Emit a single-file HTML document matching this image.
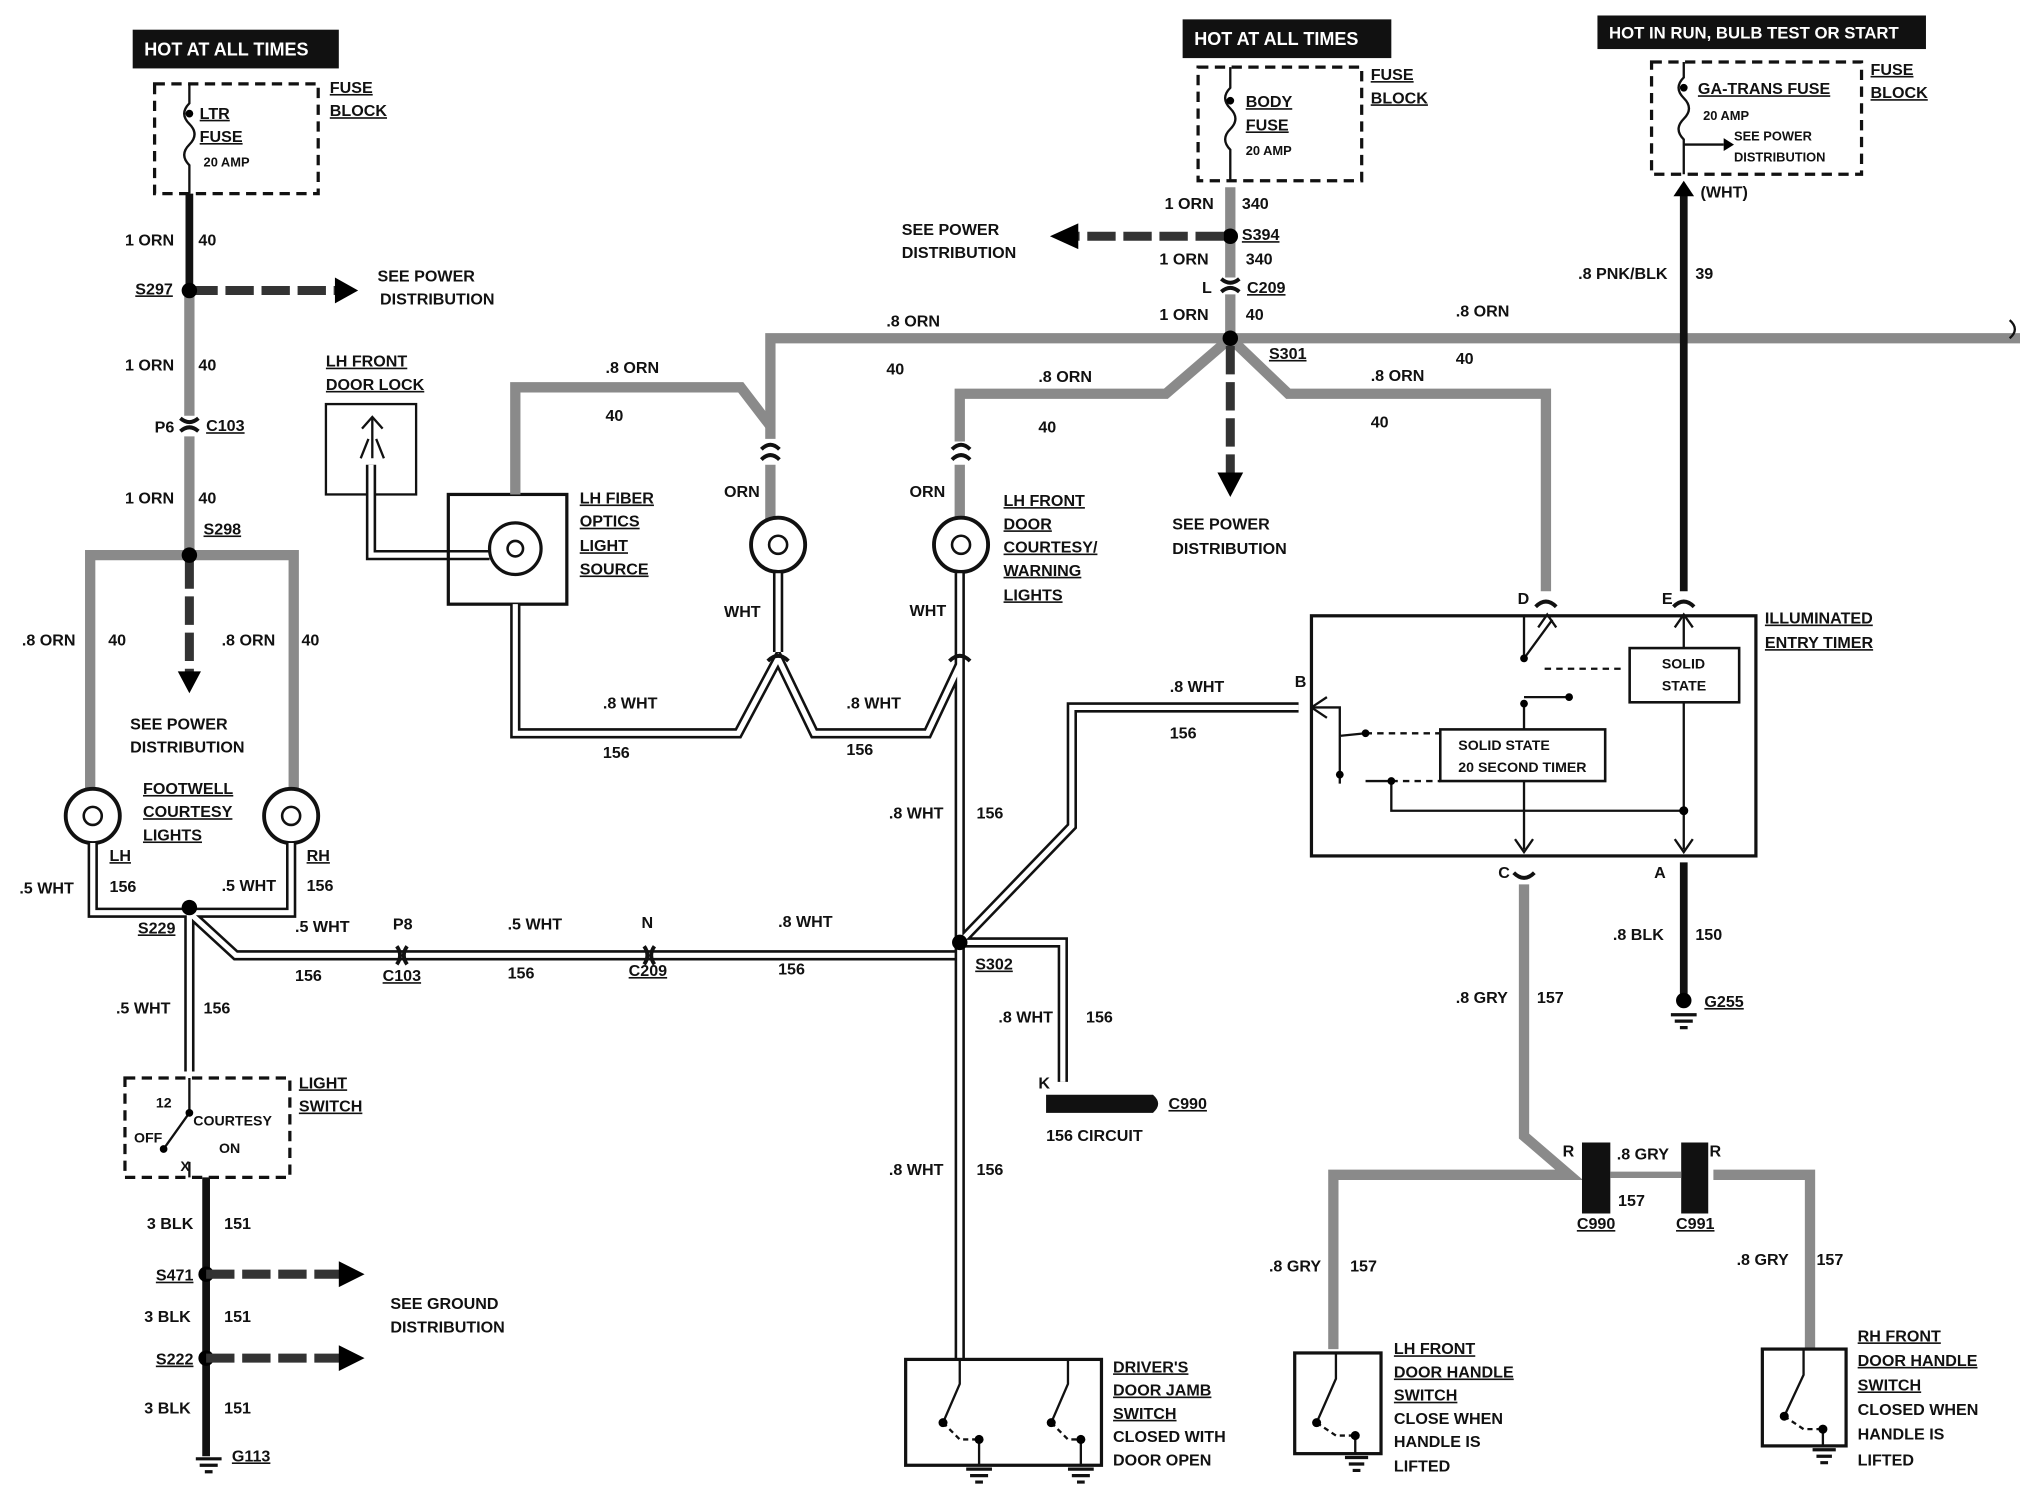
<!DOCTYPE html>
<html><head><meta charset="utf-8"><style>
html,body{margin:0;padding:0;background:#fff;}
svg{display:block}
text{font-family:"Liberation Sans",sans-serif;font-weight:bold;font-size:12.5px;fill:#111}
.u{text-decoration:underline}
.g{stroke:#8a8a8a;stroke-width:8;fill:none}
.w{stroke:#111;stroke-width:8;fill:none}
.wi{stroke:#fff;stroke-width:4;fill:none}
.b{stroke:#111;stroke-width:6;fill:none}
.t{stroke:#111;stroke-width:1.8;fill:none}
.d{stroke:#111;stroke-width:2.5;fill:none;stroke-dasharray:8 5}
.da{stroke:#333;stroke-width:7;fill:none;stroke-dasharray:22 6}
.hd{fill:#111}
.hdt{fill:#fff;font-size:14px}
</style></head><body>
<svg width="2020" height="1504" viewBox="0 0 1568 1165" preserveAspectRatio="none" xmlns="http://www.w3.org/2000/svg">
<rect class="hd" x="103" y="23" width="160" height="30"/><text class="hdt" x="112" y="43">HOT AT ALL TIMES</text>
<rect class="hd" x="918" y="15" width="162" height="30"/><text class="hdt" x="927" y="35">HOT AT ALL TIMES</text>
<rect class="hd" x="1240" y="12" width="255" height="26"/><text class="hdt" x="1249" y="30" style="font-size:13px">HOT IN RUN, BULB TEST OR START</text>
<rect class="d" x="120" y="65" width="127" height="85"/>
<path class="t" d="M147 65 V80 q-8 8 0 16 q8 8 0 16 q-8 8 0 16 V150"/><circle cx="147" cy="88" r="3"/>
<text class="u" x="155" y="92">LTR</text><text class="u" x="155" y="110">FUSE</text><text x="158" y="129" style="font-size:10px">20 AMP</text>
<text class="u" x="256" y="72">FUSE</text><text class="u" x="256" y="90">BLOCK</text>
<rect class="d" x="930" y="52" width="127" height="88"/>
<path class="t" d="M955 52 V68 q-8 8 0 16 q8 8 0 16 q-8 8 0 16 V140"/><circle cx="955" cy="78" r="3"/>
<text class="u" x="967" y="83">BODY</text><text class="u" x="967" y="101">FUSE</text><text x="967" y="120" style="font-size:10px">20 AMP</text>
<text class="u" x="1064" y="62">FUSE</text><text class="u" x="1064" y="80">BLOCK</text>
<rect class="d" x="1282" y="48" width="163" height="87"/>
<path class="t" d="M1307 48 V60 q-8 8 0 16 q8 8 0 16 q-8 8 0 16 V135"/><circle cx="1307" cy="68" r="3"/>
<path class="t" d="M1307 112 H1338"/><path d="M1338 107 L1346 112 L1338 117Z"/>
<text class="u" x="1318" y="73">GA-TRANS FUSE</text><text x="1322" y="93" style="font-size:10px">20 AMP</text>
<text x="1346" y="109" style="font-size:10px">SEE POWER</text><text x="1346" y="125" style="font-size:10px">DISTRIBUTION</text>
<text class="u" x="1452" y="58">FUSE</text><text class="u" x="1452" y="76">BLOCK</text>
<text x="1320" y="153">(WHT)</text>

<path class="b" d="M147 150 V222"/>
<path class="g" d="M147 222 V322 M147 338 V430"/>
<path class="da" d="M147 225 H262"/><path d="M260 215 L278 225 L260 235Z"/>
<circle cx="147" cy="225" r="6"/>
<text x="97" y="190">1 ORN</text><text x="154" y="190">40</text>
<text class="u" x="105" y="228">S297</text>
<text x="293" y="218">SEE POWER</text><text x="295" y="236">DISTRIBUTION</text>
<text x="97" y="287">1 ORN</text><text x="154" y="287">40</text>
<path class="t" d="M140 324 q7 6 14 0 M140 334 q7 -6 14 0" style="stroke-width:3"/>
<text x="120" y="335">P6</text><text class="u" x="160" y="334">C103</text>
<text x="97" y="390">1 ORN</text><text x="154" y="390">40</text>
<text class="u" x="158" y="414">S298</text>
<path class="g" d="M147 430 H70 V614 M147 430 H228 V614"/>
<path class="da" d="M147 434 V522"/><path d="M138 520 L147 537 L156 520Z"/>
<circle cx="147" cy="430" r="6"/>
<text x="17" y="500">.8 ORN</text><text x="84" y="500">40</text>
<text x="172" y="500">.8 ORN</text><text x="234" y="500">40</text>
<text x="101" y="565">SEE POWER</text><text x="101" y="583">DISTRIBUTION</text>
<text class="u" x="111" y="615">FOOTWELL</text><text class="u" x="111" y="633">COURTESY</text><text class="u" x="111" y="651">LIGHTS</text>
<circle cx="72" cy="632" r="21" fill="#fff" stroke="#111" stroke-width="3"/><circle cx="72" cy="632" r="7" fill="none" stroke="#111" stroke-width="2"/>
<circle cx="226" cy="632" r="21" fill="#fff" stroke="#111" stroke-width="3"/><circle cx="226" cy="632" r="7" fill="none" stroke="#111" stroke-width="2"/>
<path class="w" d="M72 653 V707 H147 M226 653 V707 H147 M147 707 L183 740 H745 M147 707 V830"/>
<path class="wi" d="M72 653 V707 H147 M226 653 V707 H147 M147 707 L183 740 H745 M147 707 V830"/>
<circle cx="147" cy="703" r="6"/>
<text class="u" x="85" y="667">LH</text><text class="u" x="238" y="667">RH</text>
<text x="15" y="692">.5 WHT</text><text x="85" y="691">156</text><text x="172" y="690">.5 WHT</text><text x="238" y="690">156</text>
<text class="u" x="107" y="723">S229</text>
<text x="229" y="722">.5 WHT</text><text x="229" y="760">156</text>
<text x="305" y="720">P8</text><text class="u" x="297" y="760">C103</text>
<text x="394" y="720">.5 WHT</text><text x="394" y="758">156</text>
<text x="498" y="719">N</text><text class="u" x="488" y="756">C209</text>
<text x="604" y="718">.8 WHT</text><text x="604" y="755">156</text>
<path class="t" d="M308 733 q5 7 0 14 M316 733 q-5 7 0 14 M500 733 q5 7 0 14 M508 733 q-5 7 0 14" style="stroke-width:3"/>
<text x="90" y="785">.5 WHT</text><text x="158" y="785">156</text>
<rect class="d" x="97" y="835" width="128" height="77"/>
<text x="121" y="858" style="font-size:11px">12</text><text x="150" y="872" style="font-size:11px">COURTESY</text>
<text x="104" y="885" style="font-size:11px">OFF</text><text x="170" y="893" style="font-size:11px">ON</text><text x="140" y="907" style="font-size:11px">X</text>
<path class="t" d="M147 835 V862 M147 862 L127 890 M147 912 V900"/><circle cx="127" cy="890" r="3"/><circle cx="147" cy="862" r="3"/>
<text class="u" x="232" y="843">LIGHT</text><text class="u" x="232" y="861">SWITCH</text>
<path class="b" d="M160 912 V1128"/>
<text x="114" y="952">3 BLK</text><text x="174" y="952">151</text>
<circle cx="160" cy="987" r="6"/><path class="da" d="M160 987 H265"/><path d="M263 977 L283 987 L263 997Z"/>
<text class="u" x="121" y="992">S471</text>
<text x="303" y="1014">SEE GROUND</text><text x="303" y="1032">DISTRIBUTION</text>
<text x="112" y="1024">3 BLK</text><text x="174" y="1024">151</text>
<circle cx="160" cy="1052" r="6"/><path class="da" d="M160 1052 H265"/><path d="M263 1042 L283 1052 L263 1062Z"/>
<text class="u" x="121" y="1057">S222</text>
<text x="112" y="1095">3 BLK</text><text x="174" y="1095">151</text>
<path class="t" d="M152 1130 H172 M155 1135 H169 M159 1140 H165" style="stroke-width:2.5"/>
<text class="u" x="180" y="1132">G113</text>

<rect class="t" x="253" y="313" width="70" height="70"/>
<path class="t" d="M289 323 V355 M281 332 L289 323 L297 332 M280 355 L286 340 M298 355 L292 340"/>
<path class="w" d="M288 360 V430 H380"/><path class="wi" d="M288 360 V430 H380"/>
<text class="u" x="253" y="284">LH FRONT</text><text class="u" x="253" y="302">DOOR LOCK</text>
<rect class="t" x="348" y="383" width="92" height="85" style="stroke-width:2.5"/>
<circle cx="400" cy="425" r="20" fill="#fff" stroke="#111" stroke-width="2.5"/><circle cx="400" cy="425" r="6" fill="none" stroke="#111" stroke-width="2"/>
<text class="u" x="450" y="390">LH FIBER</text><text class="u" x="450" y="408">OPTICS</text><text class="u" x="450" y="427">LIGHT</text><text class="u" x="450" y="445">SOURCE</text>
<path class="g" d="M400 383 V300 H575 L598 330"/>
<path class="g" d="M598 340 V262 H955 H1568"/>
<path class="g" d="M955 262 L905 305 H745 V342"/>
<path class="g" d="M955 262 L1000 305 H1200 V458"/>
<path class="g" d="M955 145 V215 M955 228 V262"/>
<path class="t" d="M591 348 q7 -7 14 0 M591 356 q7 -7 14 0 M739 348 q7 -7 14 0 M739 356 q7 -7 14 0" style="stroke-width:3"/>
<path class="g" d="M598 360 V402 M745 360 V402"/>
<circle cx="604" cy="422" r="21" fill="#fff" stroke="#111" stroke-width="3"/><circle cx="604" cy="422" r="7" fill="none" stroke="#111" stroke-width="2"/>
<circle cx="746" cy="422" r="21" fill="#fff" stroke="#111" stroke-width="3"/><circle cx="746" cy="422" r="7" fill="none" stroke="#111" stroke-width="2"/>
<text x="470" y="289">.8 ORN</text><text x="470" y="326">40</text>
<text x="688" y="253">.8 ORN</text><text x="688" y="290">40</text>
<text x="806" y="296">.8 ORN</text><text x="806" y="335">40</text>
<text x="1130" y="245">.8 ORN</text><text x="1130" y="282">40</text>
<text x="1064" y="295">.8 ORN</text><text x="1064" y="331">40</text>
<text x="562" y="385">ORN</text><text x="706" y="385">ORN</text>
<text x="562" y="478">WHT</text><text x="706" y="477">WHT</text>
<text class="u" x="779" y="392">LH FRONT</text><text class="u" x="779" y="410">DOOR</text><text class="u" x="779" y="428">COURTESY/</text><text class="u" x="779" y="446">WARNING</text><text class="u" x="779" y="465">LIGHTS</text>
<path class="w" d="M400 468 V568 H573 L604 510 L632 568 H720 L745 515 M604 444 V505 M745 444 V1052 M745 730 L832 640 V548 H1008 M745 730 H825 V838"/>
<path class="wi" d="M400 468 V568 H573 L604 510 L632 568 H720 L745 515 M604 444 V505 M745 444 V1052 M745 730 L832 640 V548 H1008 M745 730 H825 V838"/>
<path class="t" d="M596 512 q8 -8 16 0 M737 512 q8 -8 16 0" style="stroke-width:3"/>
<circle cx="745" cy="730" r="6"/>
<text x="468" y="549">.8 WHT</text><text x="468" y="587">156</text>
<text x="657" y="549">.8 WHT</text><text x="657" y="585">156</text>
<text x="690" y="634">.8 WHT</text><text x="758" y="634">156</text>
<text x="908" y="536">.8 WHT</text><text x="908" y="572">156</text>
<text class="u" x="757" y="751">S302</text>
<text x="775" y="792">.8 WHT</text><text x="843" y="792">156</text>
<text x="806" y="843">K</text>
<path d="M812 848 H895 Q903 855 895 862 H812Z" fill="#111"/>
<text class="u" x="907" y="859">C990</text><text x="812" y="884">156 CIRCUIT</text>
<text x="690" y="910">.8 WHT</text><text x="758" y="910">156</text>
<rect class="t" x="703" y="1053" width="152" height="82" style="stroke-width:2.5"/>
<path class="t" d="M745 1053 V1072 L732 1102 M829 1053 V1072 L816 1102 M760 1118 V1135 M839 1118 V1135"/>
<path class="t" d="M732 1102 L745 1115 H760 M816 1102 L829 1115 H839" style="stroke-dasharray:4 3"/>
<circle cx="732" cy="1102" r="3.5"/><circle cx="760" cy="1115" r="3.5"/><circle cx="816" cy="1102" r="3.5"/><circle cx="839" cy="1115" r="3.5"/>
<path class="t" d="M750 1138 H770 M753 1143 H767 M757 1148 H763 M829 1138 H849 M832 1143 H846 M836 1148 H842" style="stroke-width:2.5"/>
<text class="u" x="864" y="1063">DRIVER'S</text><text class="u" x="864" y="1081">DOOR JAMB</text><text class="u" x="864" y="1099">SWITCH</text><text x="864" y="1117">CLOSED WITH</text><text x="864" y="1135">DOOR OPEN</text>

<circle cx="955" cy="183" r="6"/><circle cx="955" cy="262" r="6"/>
<path class="da" d="M950 183 H835"/><path d="M837 173 L815 183 L837 193Z"/>
<path class="da" d="M955 268 V368"/><path d="M945 366 L955 385 L965 366Z"/>
<path class="t" d="M948 216 q7 6 14 0 M948 226 q7 -6 14 0" style="stroke-width:3"/>
<text x="904" y="162">1 ORN</text><text x="964" y="162">340</text>
<text class="u" x="964" y="186">S394</text>
<text x="700" y="182">SEE POWER</text><text x="700" y="200">DISTRIBUTION</text>
<text x="900" y="205">1 ORN</text><text x="967" y="205">340</text>
<text x="933" y="227">L</text><text class="u" x="968" y="227">C209</text>
<text x="900" y="248">1 ORN</text><text x="967" y="248">40</text>
<text class="u" x="985" y="278">S301</text>
<text x="910" y="410">SEE POWER</text><text x="910" y="429">DISTRIBUTION</text>
<path d="M1560 248 q8 7 0 14" class="t"/>

<path class="b" d="M1307 148 V458"/><path d="M1299 152 L1307 140 L1315 152Z"/>
<text x="1225" y="216">.8 PNK/BLK</text><text x="1316" y="216">39</text>
<text x="1178" y="468">D</text><text x="1290" y="468">E</text>
<path class="t" d="M1192 470 q8 -8 16 0 M1299 470 q8 -8 16 0" style="stroke-width:3"/>
<rect class="t" x="1018" y="477" width="345" height="186" style="stroke-width:2.5"/>
<text class="u" x="1370" y="483">ILLUMINATED</text><text class="u" x="1370" y="502">ENTRY TIMER</text>
<path class="t" d="M1183 477 V510 L1205 480 M1307 477 V658 M1183 545 V658 M1183 540 L1218 540 M1018 548 H1040 V570 L1060 568 M1040 600 V607 M1060 605 H1080 V628 H1307 M1040 548 V600"/>
<path class="t" d="M1199 518 H1262 M1060 568 H1118 M1080 605 H1118" style="stroke-dasharray:5 4"/>
<circle cx="1183" cy="510" r="3"/><circle cx="1218" cy="540" r="3"/><circle cx="1060" cy="568" r="3"/><circle cx="1040" cy="600" r="3"/><circle cx="1080" cy="605" r="3"/>
<circle cx="1307" cy="628" r="3.5"/><circle cx="1183" cy="545" r="3"/>
<path class="t" d="M1018 548 L1030 540 M1018 548 L1030 556"/>
<path class="t" d="M1176 650 L1183 660 L1190 650 M1300 650 L1307 660 L1314 650 M1194 486 L1201 476 L1208 486 M1300 486 L1307 476 L1314 486"/>
<rect class="t" x="1265" y="502" width="85" height="42" style="stroke-width:2;fill:#fff"/>
<text x="1290" y="518" style="font-size:11px">SOLID</text><text x="1290" y="535" style="font-size:11px">STATE</text>
<rect class="t" x="1118" y="565" width="128" height="40" style="stroke-width:2;fill:#fff"/>
<text x="1132" y="581" style="font-size:11px">SOLID STATE</text><text x="1132" y="598" style="font-size:11px">20 SECOND TIMER</text>
<text x="1005" y="532">B</text>
<text x="1163" y="680">C</text><text x="1284" y="680">A</text>
<path class="t" d="M1175 676 q8 8 16 0" style="stroke-width:3"/>
<path class="b" d="M1307 668 V775"/>
<text x="1252" y="728">.8 BLK</text><text x="1316" y="728">150</text>
<circle cx="1307" cy="775" r="6"/><path class="t" d="M1297 786 H1317 M1300 791 H1314 M1304 796 H1310" style="stroke-width:2.5"/>
<text class="u" x="1323" y="780">G255</text>
<path class="g" d="M1183 685 V880 L1218 910 H1035 V1045 M1330 910 H1405 V1045"/>
<text x="1130" y="777">.8 GRY</text><text x="1193" y="777">157</text>
<path d="M1228 885 H1250 V940 H1228Z M1305 885 H1326 V940 H1305Z" fill="#111"/>
<path class="g" d="M1250 910 H1305" style="stroke-width:5"/>
<text x="1213" y="896">R</text><text x="1255" y="898">.8 GRY</text><text x="1327" y="896">R</text>
<text x="1256" y="934">157</text>
<text class="u" x="1224" y="952">C990</text><text class="u" x="1301" y="952">C991</text>
<text x="985" y="985">.8 GRY</text><text x="1048" y="985">157</text>
<text x="1348" y="980">.8 GRY</text><text x="1410" y="980">157</text>
<rect class="t" x="1005" y="1048" width="67" height="78" style="stroke-width:2.5"/>
<path class="t" d="M1037 1048 V1068 L1022 1102 M1052 1112 V1126"/>
<path class="t" d="M1022 1102 L1037 1112 H1052" style="stroke-dasharray:4 3"/>
<circle cx="1022" cy="1102" r="3.5"/><circle cx="1052" cy="1112" r="3.5"/>
<path class="t" d="M1044 1129 H1062 M1047 1134 H1059 M1050 1139 H1056" style="stroke-width:2.5"/>
<text class="u" x="1082" y="1049">LH FRONT</text><text class="u" x="1082" y="1067">DOOR HANDLE</text><text class="u" x="1082" y="1085">SWITCH</text><text x="1082" y="1103">CLOSE WHEN</text><text x="1082" y="1121">HANDLE IS</text><text x="1082" y="1140">LIFTED</text>
<rect class="t" x="1368" y="1045" width="65" height="75" style="stroke-width:2.5"/>
<path class="t" d="M1400 1045 V1065 L1385 1097 M1415 1105 V1120"/>
<path class="t" d="M1385 1097 L1400 1107 H1415" style="stroke-dasharray:4 3"/>
<circle cx="1385" cy="1097" r="3.5"/><circle cx="1415" cy="1107" r="3.5"/>
<path class="t" d="M1407 1123 H1425 M1410 1128 H1422 M1413 1133 H1419" style="stroke-width:2.5"/>
<text class="u" x="1442" y="1039">RH FRONT</text><text class="u" x="1442" y="1058">DOOR HANDLE</text><text class="u" x="1442" y="1077">SWITCH</text><text x="1442" y="1096">CLOSED WHEN</text><text x="1442" y="1115">HANDLE IS</text><text x="1442" y="1135">LIFTED</text>
</svg>
</body></html>
